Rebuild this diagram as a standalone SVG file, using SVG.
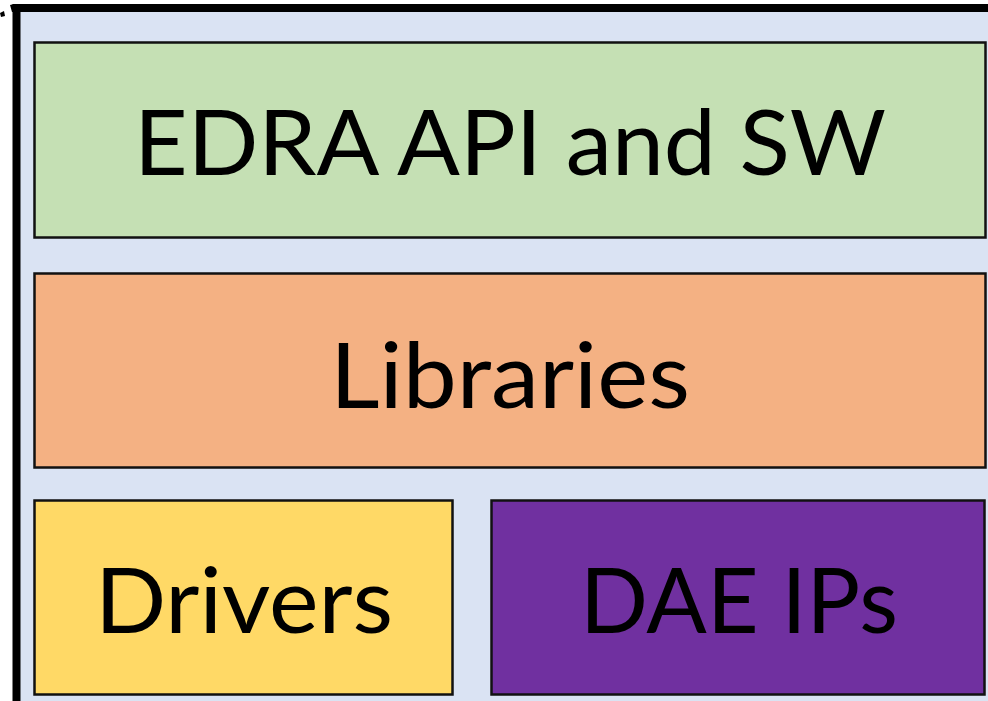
<svg xmlns="http://www.w3.org/2000/svg" width="988" height="701" viewBox="0 0 988 701">
<style>
.box{stroke:#111;stroke-width:2.5}
.lbl{font-family:Lato,"Open Sans","Noto Sans",sans-serif;fill:#000;text-anchor:middle}
</style>
<rect width="988" height="701" fill="#fff"/>
<g id="frame">
<rect x="16.5" y="8" width="990" height="720" fill="#DAE3F3" stroke="#000" stroke-width="8"/>
<polygon points="0,13 4,11 5,16 1,17" fill="#000"/>
<polygon points="10,5 14,4 14,12 12,12" fill="#000"/>
</g>
<g id="edra">
<rect class="box" x="34.5" y="42.5" width="951" height="195" fill="#C5E0B4"/>
<text class="lbl" x="510" y="175" font-size="92" textLength="752" lengthAdjust="spacingAndGlyphs">EDRA API and SW</text>
</g>
<g id="libraries">
<rect class="box" x="34.5" y="273.5" width="951" height="194" fill="#F4B183"/>
<text class="lbl" x="510" y="408" font-size="92" textLength="360" lengthAdjust="spacingAndGlyphs">Libraries</text>
</g>
<g id="drivers">
<rect class="box" x="34.5" y="500.5" width="418" height="194" fill="#FFD966"/>
<text class="lbl" x="244" y="633" font-size="92" textLength="298" lengthAdjust="spacingAndGlyphs">Drivers</text>
</g>
<g id="dae">
<rect class="box" x="491.5" y="500.5" width="493" height="194" fill="#7030A0"/>
<text class="lbl" x="739" y="633" font-size="92" textLength="318" lengthAdjust="spacingAndGlyphs">DAE IPs</text>
</g>
<g id="connectors"></g>
</svg>
